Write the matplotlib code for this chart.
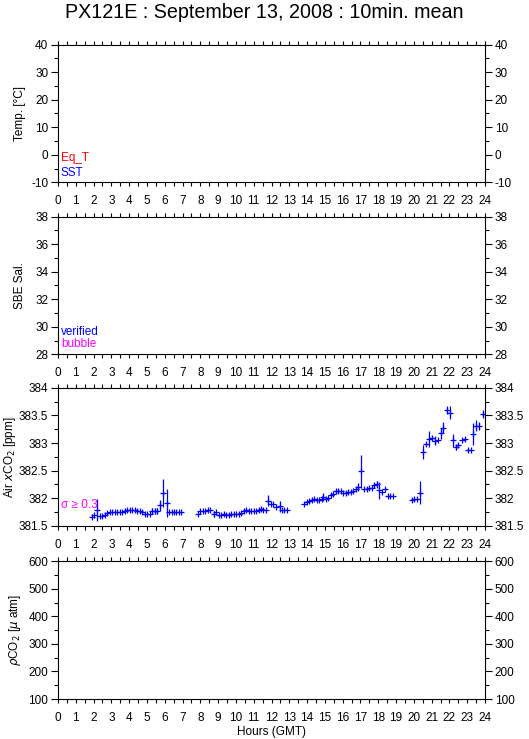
import numpy as np
import matplotlib
matplotlib.use("Agg")
import matplotlib.pyplot as plt
from matplotlib.ticker import MultipleLocator, FuncFormatter

plt.rcParams['font.family'] = ['Liberation Sans', 'DejaVu Sans']
plt.rcParams['mathtext.fontset'] = 'dejavusans'

# 10 min mean Air xCO2 (hours GMT, ppm, sigma)
hours = [1.89, 2.04, 2.22, 2.36, 2.49, 2.64, 2.77, 2.92, 3.05, 3.20, 3.33, 3.48,
         3.61, 3.76, 3.89, 4.04, 4.17, 4.32, 4.45, 4.60, 4.73, 4.88, 5.01, 5.16,
         5.29, 5.44, 5.57, 5.72, 5.91, 6.10, 6.24, 6.38, 6.52, 6.66, 6.80, 6.94,
         7.87, 8.00, 8.15, 8.28, 8.43, 8.56, 8.75, 8.90, 9.03, 9.18, 9.31, 9.46,
         9.59, 9.74, 9.87, 10.02, 10.15, 10.30, 10.43, 10.58, 10.71, 10.86, 10.99, 11.14,
         11.27, 11.42, 11.55, 11.70, 11.83, 11.99, 12.11, 12.27, 12.45, 12.60, 12.72, 12.86,
         13.85, 13.98, 14.13, 14.26, 14.41, 14.54, 14.69, 14.82, 14.92, 15.07, 15.20, 15.35,
         15.48, 15.63, 15.76, 15.91, 16.04, 16.19, 16.32, 16.47, 16.60, 16.75, 16.88, 17.03,
         17.22, 17.35, 17.50, 17.63, 17.78, 17.91, 18.06, 18.21, 18.38, 18.52, 18.68, 18.84,
         19.87, 20.02, 20.17, 20.36, 20.54, 20.71, 20.86, 21.01, 21.18, 21.34, 21.50, 21.66,
         21.85, 22.02, 22.19, 22.36, 22.50, 22.70, 22.87, 23.04, 23.20, 23.35, 23.52, 23.69,
         23.86]
xco2 = [381.66, 381.70, 381.78, 381.68, 381.68, 381.70, 381.73, 381.74, 381.74, 381.74, 381.74, 381.74,
        381.74, 381.76, 381.78, 381.78, 381.78, 381.78, 381.77, 381.76, 381.74, 381.72, 381.72, 381.72,
        381.77, 381.77, 381.77, 381.87, 382.09, 381.91, 381.74, 381.74, 381.74, 381.74, 381.74, 381.74,
        381.72, 381.76, 381.76, 381.76, 381.78, 381.79, 381.71, 381.74, 381.70, 381.70, 381.72, 381.70,
        381.70, 381.72, 381.72, 381.72, 381.72, 381.73, 381.76, 381.78, 381.77, 381.77, 381.76, 381.76,
        381.78, 381.80, 381.79, 381.78, 381.95, 381.90, 381.89, 381.84, 381.85, 381.79, 381.78, 381.78,
        381.90, 381.93, 381.95, 381.97, 381.99, 381.97, 381.96, 381.99, 382.02, 381.99, 382.00, 382.05,
        382.08, 382.13, 382.13, 382.13, 382.09, 382.09, 382.12, 382.12, 382.13, 382.16, 382.20, 382.49,
        382.17, 382.17, 382.18, 382.19, 382.23, 382.25, 382.14, 382.11, 382.16, 382.04, 382.04, 382.04,
        381.96, 381.98, 381.98, 382.10, 382.84, 382.98, 383.07, 383.09, 383.04, 383.05, 383.18, 383.28,
        383.60, 383.55, 383.05, 382.92, 382.96, 383.05, 383.08, 382.87, 382.87, 383.16, 383.31, 383.31,
        383.52]
sigma = [0, 0, 0.20, 0, 0, 0, 0, 0, 0, 0, 0, 0,
         0, 0, 0, 0.03, 0, 0, 0.03, 0, 0, 0, 0, 0,
         0.05, 0.05, 0.05, 0.10, 0.25, 0.26, 0, 0, 0, 0, 0, 0,
         0, 0, 0, 0, 0.03, 0, 0.06, 0, 0, 0, 0.03, 0,
         0, 0, 0, 0, 0, 0, 0, 0.03, 0, 0, 0, 0,
         0, 0.04, 0, 0, 0.10, 0, 0, 0, 0.10, 0, 0, 0,
         0, 0, 0, 0, 0, 0, 0, 0, 0.08, 0, 0, 0,
         0, 0.04, 0.04, 0, 0, 0, 0, 0, 0, 0, 0.07, 0.30,
         0, 0, 0, 0, 0.04, 0.07, 0.15, 0, 0, 0, 0, 0,
         0, 0, 0, 0.21, 0.13, 0, 0.15, 0.04, 0.08, 0, 0.10, 0.10,
         0.08, 0.12, 0.12, 0.04, 0.04, 0, 0.03, 0.04, 0, 0.20, 0.10, 0.08,
         0.07]

panel_ylim = [(-10, 40), (28, 38), (381.5, 384), (100, 600)]
panel_major = [10, 2, 0.5, 100]
panel_minor = [5, 1, 0.25, 50]
panel_ylabel = ['Temp. [°C]', 'SBE Sal.', r'Air $x$CO$_2$ [ppm]', r'$\rho$CO$_2$ [$\mu$ atm]']
label_x = [-0.075, -0.075, -0.093, -0.082]

fig = plt.figure(figsize=(5.29, 7.39), dpi=100)
fig.text(0.5, 1 - 13 / 739, 'PX121E : September 13, 2008 : 10min. mean',
         ha='center', va='center', fontsize=14.2)

left, width, height = 58 / 529, 427 / 529, 137.8 / 739
bottoms = [1 - 182.3 / 739, 1 - 354.3 / 739, 1 - 525.7 / 739, 1 - 699 / 739]
axes = []
for i in range(4):
    ax = fig.add_axes([left, bottoms[i], width, height])
    ax.set_xlim(0, 24)
    ax.set_ylim(*panel_ylim[i])
    ax.xaxis.set_major_locator(MultipleLocator(1))
    ax.xaxis.set_minor_locator(MultipleLocator(0.5))
    ax.yaxis.set_major_locator(MultipleLocator(panel_major[i]))
    ax.yaxis.set_minor_locator(MultipleLocator(panel_minor[i]))
    ax.yaxis.set_major_formatter(FuncFormatter(lambda v, p: '%g' % round(v, 2)))
    ax.tick_params(axis='x', which='both', direction='out', top=True, bottom=True,
                   length=3, width=0.8, labelsize=8.5, pad=6.5)
    ax.tick_params(axis='y', which='major', direction='out', left=True, right=True,
                   labelleft=True, labelright=True, length=5, width=0.8, labelsize=8.5, pad=2)
    ax.tick_params(axis='y', which='minor', direction='out', left=True, right=True,
                   length=3, width=0.8)
    for s in ax.spines.values():
        s.set_linewidth(0.8)
    ax.set_ylabel(panel_ylabel[i], fontsize=8.5)
    ax.yaxis.set_label_coords(label_x[i], 0.5)
    axes.append(ax)

ax1, ax2, ax3, ax4 = axes
ax1.text(0.007, 0.178, 'Eq_T', color='#ff0000', fontsize=8.5, transform=ax1.transAxes, va='center')
ax1.text(0.007, 0.07, 'SST', color='#0000ff', fontsize=8.5, transform=ax1.transAxes, va='center')
ax2.text(0.007, 0.16, 'verified', color='#0000ff', fontsize=8.5, transform=ax2.transAxes, va='center')
ax2.text(0.007, 0.073, 'bubble', color='#ff00ff', fontsize=8.5, transform=ax2.transAxes, va='center')
ax3.text(0.007, 0.151, 'σ ≥ 0.3', color='#ff00ff', fontsize=8.5, transform=ax3.transAxes,
         va='center', family=['Liberation Sans', 'DejaVu Sans'])

ax3.errorbar(hours, xco2, yerr=sigma, fmt='+', color='#0000ff', markersize=4.5,
             mew=0.9, elinewidth=0.9, capsize=0)

ax4.set_xlabel('Hours (GMT)', fontsize=8.5, labelpad=1)

plt.savefig('out.png', dpi=100)
